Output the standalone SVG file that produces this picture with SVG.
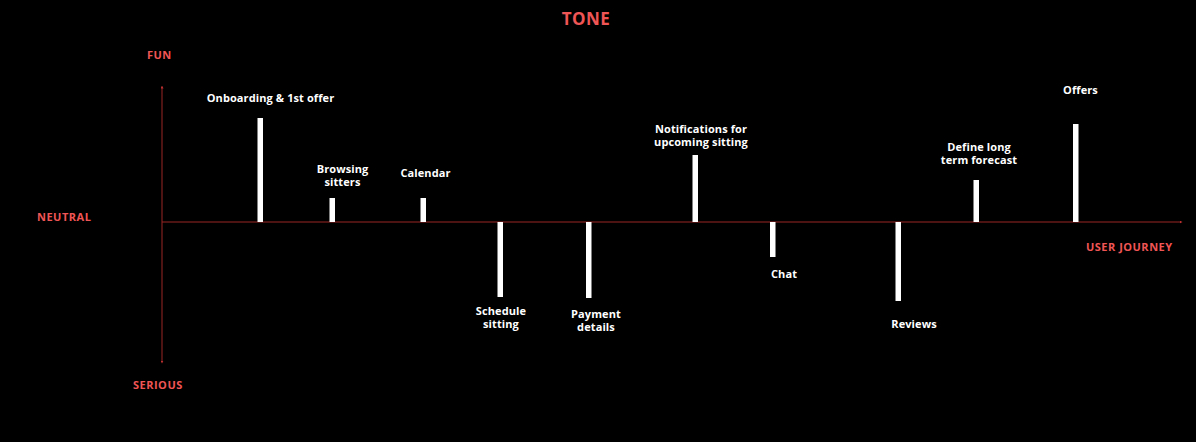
<svg xmlns="http://www.w3.org/2000/svg" width="1196" height="442" viewBox="0 0 1196 442">
<defs>
<style>
.lbl{font-family:"Open Sans","Liberation Sans",sans-serif;font-weight:700;font-size:11px;fill:#ffffff;text-anchor:middle;letter-spacing:0.1px}
.axl{font-family:"Open Sans","Liberation Sans",sans-serif;font-weight:700;font-size:11px;fill:#f05555;letter-spacing:0.5px}
.ttl{font-family:"Open Sans","Liberation Sans",sans-serif;font-weight:700;font-size:17px;fill:#f05555;text-anchor:middle;letter-spacing:0.5px}
.axis{stroke:#9a2424;stroke-width:1;fill:none}
.bar{fill:#ffffff}
</style>
<marker id="tip" viewBox="0 0 4 4" refX="2" refY="2" markerWidth="3" markerHeight="3" orient="auto">
<path d="M0,0 L4,2 L0,4 Z" fill="#c03030"/>
</marker>
</defs>
<rect width="1196" height="442" fill="#000000"/>
<text class="ttl" x="586" y="25">TONE</text>
<text class="axl" x="147" y="59">FUN</text>
<text class="axl" x="37" y="221">NEUTRAL</text>
<text class="axl" x="133" y="389">SERIOUS</text>
<text class="axl" x="1086" y="251">USER JOURNEY</text>
<g id="connectors">
<line class="axis" x1="162" y1="222" x2="162" y2="87" marker-end="url(#tip)"/>
<line class="axis" x1="162" y1="222" x2="162" y2="362" marker-end="url(#tip)"/>
<line class="axis" x1="162" y1="222" x2="1181" y2="222" marker-end="url(#tip)"/>
</g>
<g id="onboarding"><rect class="bar" x="257.5" y="118" width="5.5" height="104"/><text class="lbl" x="270.5" y="102">Onboarding &amp; 1st offer</text></g>
<g id="browsing"><rect class="bar" x="329.5" y="198" width="5.5" height="24"/><text class="lbl" x="342.5" y="173">Browsing</text><text class="lbl" x="342.5" y="186">sitters</text></g>
<g id="calendar"><rect class="bar" x="420.5" y="198" width="5.5" height="24"/><text class="lbl" x="425.5" y="177">Calendar</text></g>
<g id="schedule"><rect class="bar" x="497.5" y="222" width="5.5" height="75"/><text class="lbl" x="501" y="315">Schedule</text><text class="lbl" x="501" y="328">sitting</text></g>
<g id="payment"><rect class="bar" x="586" y="222" width="5.5" height="76"/><text class="lbl" x="596" y="318">Payment</text><text class="lbl" x="596" y="331">details</text></g>
<g id="notifications"><rect class="bar" x="692.5" y="155" width="5.5" height="67"/><text class="lbl" x="701" y="133">Notifications for</text><text class="lbl" x="701" y="146">upcoming sitting</text></g>
<g id="chat"><rect class="bar" x="770" y="222" width="5.5" height="35"/><text class="lbl" x="784" y="278">Chat</text></g>
<g id="reviews"><rect class="bar" x="895.5" y="222" width="5.5" height="79"/><text class="lbl" x="914" y="328">Reviews</text></g>
<g id="define"><rect class="bar" x="973.5" y="180" width="5.5" height="42"/><text class="lbl" x="979" y="151">Define long</text><text class="lbl" x="979" y="164">term forecast</text></g>
<g id="offers"><rect class="bar" x="1073" y="124" width="5.5" height="98"/><text class="lbl" x="1080.5" y="94">Offers</text></g>
</svg>
